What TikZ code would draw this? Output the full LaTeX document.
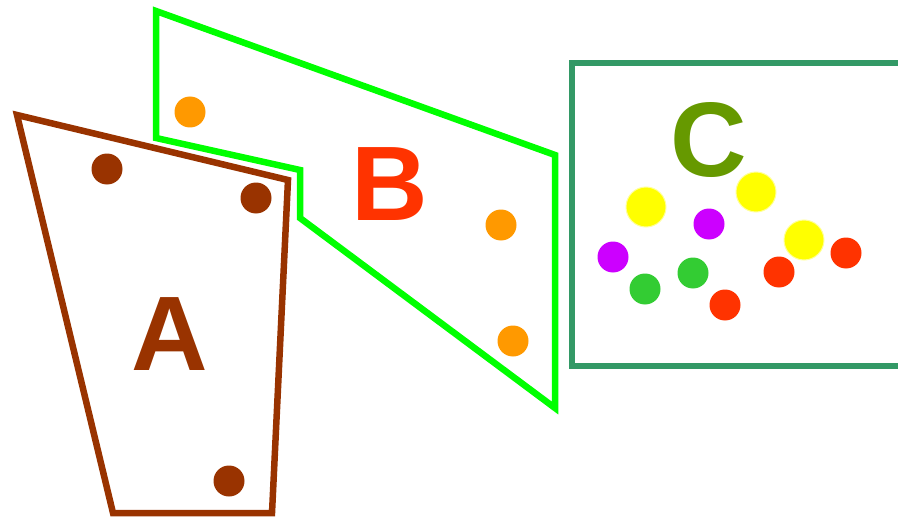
\documentclass[tikz,border=0pt]{standalone}
\usepackage{fontspec}
\setmainfont{Liberation Sans}
\usepackage{tikz}
\usetikzlibrary{positioning}

\definecolor{rust}{HTML}{993300}
\definecolor{lime}{HTML}{00FF00}
\definecolor{sea}{HTML}{339966}
\definecolor{amber}{HTML}{FF9900}
\definecolor{scarlet}{HTML}{FF3300}
\definecolor{olive}{HTML}{669900}
\definecolor{lemon}{HTML}{FFFF00}
\definecolor{violet}{HTML}{CC00FF}
\definecolor{grass}{HTML}{33CC33}

\begin{document}
\begin{tikzpicture}[
      x=1pt, y=-1pt,
      border/.style={line width=6.5pt, line join=miter},
      dot/.style={circle, inner sep=0pt, minimum size=31pt},
      bigdot/.style={circle, inner sep=0pt, minimum size=40pt, draw=lemon!40, line width=1pt},
      letter/.style={font=\fontsize{106}{106}\selectfont\bfseries, inner sep=0pt, anchor=base},
    ]
    \useasboundingbox (0,0) rectangle (898,519);
    % set A
    \draw[border, rust] (17,115) -- (288,180) -- (272,513) -- (113,513) -- cycle;
    \node[letter, text=rust] (labA) at (170,370) {A};
    \foreach \n/\x/\y in {a1/107/169, a2/256/198, a3/229/481}{
      \node[dot, fill=rust] (\n) at (\x,\y) {};
    }
    % set B
    \draw[border, lime] (156,11) -- (555,155) -- (555,408) -- (300,218)
      -- (300,170) -- (156,138) -- cycle;
    \node[letter, text=scarlet] (labB) at (390,220) {B};
    \foreach \n/\x/\y in {b1/190/112, b2/501/225, b3/513/341}{
      \node[dot, fill=amber] (\n) at (\x,\y) {};
    }
    % set C
    \draw[border, sea] (910,63) -- (572,63) -- (572,366) -- (910,366);
    \node[letter, text=olive] (labC) at (709,176) {C};
    \foreach \n/\x/\y in {c1/646/207, c2/756/192, c3/804/240}{
      \node[bigdot, fill=lemon] (\n) at (\x,\y) {};
    }
    \foreach \n/\x/\y in {c4/709/224, c5/613/257}{
      \node[dot, fill=violet] (\n) at (\x,\y) {};
    }
    \foreach \n/\x/\y in {c6/645/289, c7/693/273}{
      \node[dot, fill=grass] (\n) at (\x,\y) {};
    }
    \foreach \n/\x/\y in {c8/725/305, c9/779/272, c10/846/253}{
      \node[dot, fill=scarlet] (\n) at (\x,\y) {};
    }
  \end{tikzpicture}
\end{document}
